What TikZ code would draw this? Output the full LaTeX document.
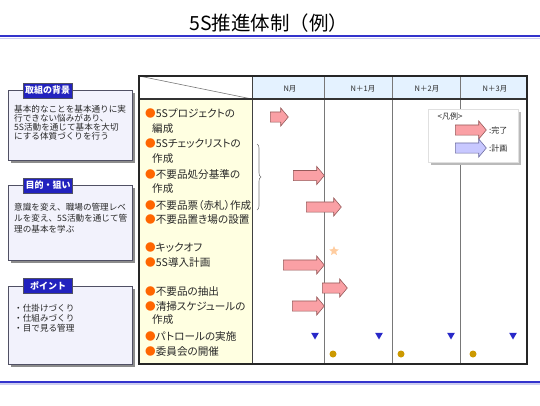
\documentclass[tikz,border=0pt]{standalone}
\usepackage{fontspec}
\setmainfont{Noto Sans CJK JP}
\newfontfamily\jpp[RawFeature=+palt]{Noto Sans CJK JP}
\usetikzlibrary{shapes.arrows,shapes.geometric,decorations.pathreplacing}
\definecolor{lineblue}{RGB}{51,51,204}
\definecolor{linelight}{RGB}{205,205,240}
\definecolor{labblue}{RGB}{34,34,190}
\definecolor{boxfill}{RGB}{242,242,252}
\definecolor{boxedge}{RGB}{80,80,100}
\definecolor{shadowc}{RGB}{140,140,140}
\definecolor{colyellow}{RGB}{255,255,225}
\definecolor{headblue}{RGB}{228,242,255}
\definecolor{bulorange}{RGB}{255,102,0}
\definecolor{arrpink}{RGB}{250,160,165}
\definecolor{arredge}{RGB}{150,90,90}
\definecolor{planlav}{RGB}{200,200,255}
\definecolor{planedge}{RGB}{110,110,160}
\definecolor{triblue}{RGB}{40,40,200}
\definecolor{goldc}{RGB}{204,153,0}
\definecolor{starc}{RGB}{255,205,160}
\definecolor{txt}{RGB}{40,40,40}
\definecolor{gridc}{RGB}{120,120,120}
\newcommand\bul{{\color{bulorange}●}}
\begin{document}
\begin{tikzpicture}[x=1pt,y=-1pt,
 item/.style={font=\jpp\fontsize{10.6}{12}\selectfont, text=txt, inner sep=0, anchor=west},
 btxt/.style={font=\fontsize{8.6}{10}\selectfont, text=txt, inner sep=0, anchor=west},
 lab/.style={fill=labblue, draw=boxedge, text=white, font=\fontsize{9}{10}\selectfont\bfseries, minimum width=49, minimum height=15, inner sep=0},
 ibox/.style={draw=boxedge, fill=boxfill, line width=0.8},
 mon/.style={font=\fontsize{7.5}{9}\selectfont, text=txt, inner sep=0},
 done/.style={single arrow, draw=arredge, fill=arrpink, inner xsep=0, inner ysep=4.75, minimum width=0, single arrow head extend=4, single arrow tip angle=100, anchor=west, line width=0.6},
 plan/.style={done, draw=planedge, fill=planlav},
 tri/.style={regular polygon, regular polygon sides=3, shape border rotate=180, fill=triblue, inner sep=0, minimum size=9},
 golddot/.style={circle, fill=goldc, inner sep=0, minimum size=7},
 legtxt/.style={font=\fontsize{8}{9}\selectfont, text=txt, inner sep=0}
]
\useasboundingbox (0,0) rectangle (540,405);
% title and rules
\node[font=\fontsize{19.5}{21}\selectfont, text=black] (title) at (269,23.5) {5S推進体制（例）};
\draw[lineblue, line width=2pt] (0,36) -- (540,36);
\draw[linelight, line width=1.5pt] (0,38.3) -- (540,38.3);
\draw[lineblue, line width=2pt] (0,382) -- (540,382);
\draw[linelight, line width=1.2pt] (0,384) -- (540,384);

% left boxes
\fill[shadowc] (10.5,92.5) rectangle (134.5,162.5);
\draw[ibox] (8,90) rectangle (132,160);
\node[lab] (t1) at (47.5,90.5) {取組の背景};
\node[btxt] (b1a) at (14,109) {基本的なことを基本通りに実};
\node[btxt] (b1b) at (14,118) {行できない悩みがあり、};
\node[btxt] (b1c) at (14,127) {5S活動を通じて基本を大切};
\node[btxt] (b1d) at (14,136) {にする体質づくりを行う};

\fill[shadowc] (10.5,187.5) rectangle (134.5,262.5);
\draw[ibox] (8,185) rectangle (132,260);
\node[lab] (t2) at (48,185.5) {目的・狙い};
\node[btxt] (b2a) at (14,207) {意識を変え、職場の管理レベ};
\node[btxt] (b2b) at (14,218) {ルを変え、5S活動を通じて管};
\node[btxt] (b2c) at (14,229) {理の基本を学ぶ};

\fill[shadowc] (10.5,288.5) rectangle (134.5,366.5);
\draw[ibox] (8,286) rectangle (132,364);
\node[lab] (t3) at (48,285.5) {ポイント};
\node[btxt] (b3a) at (14,308) {・仕掛けづくり};
\node[btxt] (b3b) at (14,318) {・仕組みづくり};
\node[btxt] (b3c) at (14,328) {・目で見る管理};

% table fills
\fill[colyellow] (139,99) rectangle (252,364);
\fill[headblue] (252,76) rectangle (527,99);
\draw[gridc, line width=0.6] (139,76) -- (252,99);
\foreach \cx in {324,392,460} \draw[gridc, line width=0.8] (\cx,76) -- (\cx,364);
\draw[black!75, line width=1] (252,76) -- (252,364);
\draw[black!80, line width=1.6] (139,99) -- (527,99);

% month labels
\node[mon] (m0) at (290,89) {N月};
\node[mon] (m1) at (363,89) {N＋1月};
\node[mon] (m2) at (427,89) {N＋2月};
\node[mon] (m3) at (495,89) {N＋3月};

% items
\node[item] (i1) at (145,113) {\bul 5Sプロジェクトの};
\node[item] (i1b) at (152,129) {編成};
\node[item] (i2) at (145,143) {\bul 5Sチェックリストの};
\node[item] (i2b) at (152,159) {作成};
\node[item] (i3) at (145,174) {\bul 不要品処分基準の};
\node[item] (i3b) at (152,189) {作成};
\node[item] (i4) at (145,205) {\bul 不要品票（赤札）作成};
\node[item] (i5) at (145,220) {\bul 不要品置き場の設置};
\node[item] (i6) at (145,247) {\bul キックオフ};
\node[item] (i7) at (145,262) {\bul 5S導入計画};
\node[item] (i8) at (145,291) {\bul 不要品の抽出};
\node[item] (i9) at (145,306) {\bul 清掃スケジュールの};
\node[item] (i9b) at (152,320) {作成};
\node[item] (i10) at (145,336) {\bul パトロールの実施};
\node[item] (i11) at (145,351) {\bul 委員会の開催};

% brace
\coordinate (bt) at (257,144);
\coordinate (bb) at (257,210);
\draw[gridc, line width=0.6, decorate, decoration={brace, amplitude=4pt}] (bt) -- (bb);

% legend
\fill[shadowc!60] (430.5,111.5) rectangle (520.5,164.5);
\draw[fill=white, draw=black!12] (428,109) rectangle (518,162);
\node[legtxt] (lg) at (450,116) {<凡例>};
\node[done, minimum height=31] (lga) at (455,130) {};
\node[plan, minimum height=31] (lgb) at (455,148) {};
\node[legtxt, anchor=west] (lgat) at (489,130) {:完了};
\node[legtxt, anchor=west] (lgbt) at (489,148) {:計画};

% schedule arrows
\node[done, minimum height=18] (a1) at (270,117) {};
\node[done, minimum height=31] (a2) at (293,175.5) {};
\node[done, minimum height=35] (a3) at (306,207) {};
\node[done, minimum height=41] (a4) at (283,265) {};
\node[done, minimum height=25] (a5) at (322,288) {};
\node[done, minimum height=32] (a6) at (292,306) {};

% markers
\node[star, star points=5, star point ratio=2.2, fill=starc, inner sep=0, minimum size=10] (st) at (334,251) {};
\node[tri] (tr1) at (315,335) {};
\node[tri] (tr2) at (379,335) {};
\node[tri] (tr3) at (451,335) {};
\node[tri] (tr4) at (513,335) {};
\node[golddot] (g1) at (333,354) {};
\node[golddot] (g2) at (401,354) {};
\node[golddot] (g3) at (473,354) {};

% outer frame
\draw[black!85, line width=1.3] (139,76) rectangle (527,364);
\end{tikzpicture}
\end{document}
